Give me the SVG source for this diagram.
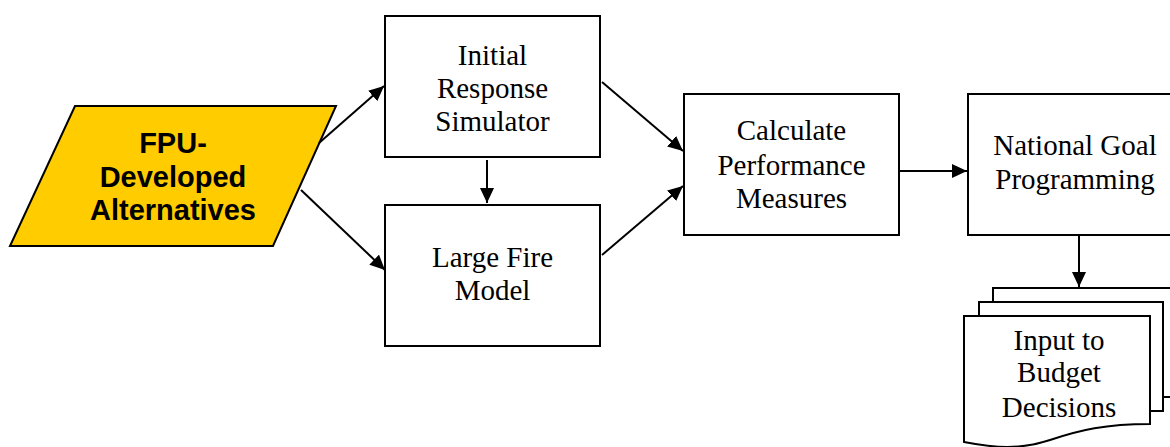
<svg xmlns="http://www.w3.org/2000/svg" width="1170" height="447" viewBox="0 0 1170 447">
<defs>
<style>
.box{fill:#fff;stroke:#000;stroke-width:2}
.t{font-family:"Liberation Serif","Times New Roman",serif;font-size:29px;fill:#000;text-anchor:middle}
.b{font-family:"Liberation Sans",Arial,sans-serif;font-size:29px;font-weight:bold;fill:#000;text-anchor:middle}
.c{fill:none;stroke:#000;stroke-width:2;marker-end:url(#ah)}
</style>
<marker id="ah" markerUnits="userSpaceOnUse" markerWidth="16" markerHeight="14" refX="15" refY="7" orient="auto">
<path d="M0,0 L15,7 L0,14 Z" fill="#000"/>
</marker>
</defs>
<rect width="1170" height="447" fill="#fff"/>
<g id="fpu">
<polygon points="75,106 336,106 273,246 10,246" fill="#FFCC00" stroke="#000" stroke-width="2"/>
<text class="b" x="173" y="153">FPU-</text>
<text class="b" x="173" y="187">Developed</text>
<text class="b" x="173" y="220">Alternatives</text>
</g>
<g id="initial">
<rect class="box" x="385" y="16" width="215" height="141"/>
<text class="t" x="492.5" y="65">Initial</text>
<text class="t" x="492.5" y="98">Response</text>
<text class="t" x="492.5" y="131">Simulator</text>
</g>
<g id="largefire">
<rect class="box" x="385" y="205" width="215" height="141"/>
<text class="t" x="492.5" y="267">Large Fire</text>
<text class="t" x="492.5" y="300">Model</text>
</g>
<g id="calc">
<rect class="box" x="684" y="94" width="215" height="141"/>
<text class="t" x="791.5" y="140">Calculate</text>
<text class="t" x="791.5" y="175">Performance</text>
<text class="t" x="791.5" y="208">Measures</text>
</g>
<g id="national">
<rect class="box" x="968" y="94" width="214" height="141"/>
<text class="t" x="1075" y="155">National Goal</text>
<text class="t" x="1075" y="189">Programming</text>
</g>
<g id="budget">
<rect class="box" x="993" y="288" width="185" height="109"/>
<rect class="box" x="979" y="302" width="184" height="109"/>
<path class="box" d="M964,316 L1150,316 L1150,424 C1105,424 1080,430 1050,440 C1020,450 995,448 964,442 Z"/>
<text class="t" x="1059" y="350">Input to</text>
<text class="t" x="1059" y="382">Budget</text>
<text class="t" x="1059" y="417">Decisions</text>
</g>
<g id="connectors">
<line class="c" x1="319" y1="143" x2="384" y2="86"/>
<line class="c" x1="301" y1="190" x2="385" y2="270"/>
<line class="c" x1="487" y1="160" x2="487" y2="203"/>
<line class="c" x1="602" y1="82" x2="683" y2="151"/>
<line class="c" x1="602" y1="255" x2="683" y2="186"/>
<line class="c" x1="899" y1="171" x2="967" y2="171"/>
<line class="c" x1="1079" y1="235" x2="1079" y2="287"/>
</g>
</svg>
